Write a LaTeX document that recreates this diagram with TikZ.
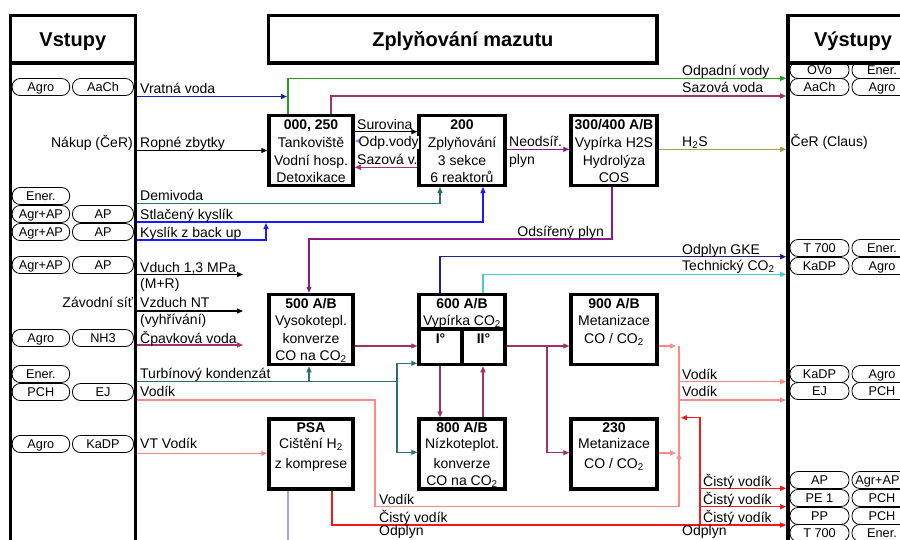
\documentclass[tikz,border=0pt]{standalone}
\usepackage{fontspec}
\setmainfont{Liberation Sans}
\usetikzlibrary{arrows.meta}
\definecolor{cBlueD}{HTML}{1C1CA8}
\definecolor{cBlue}{HTML}{1A1AFF}
\definecolor{cGreen}{HTML}{22A022}
\definecolor{cMag}{HTML}{A8306E}
\definecolor{cOlive}{HTML}{A8A040}
\definecolor{cPurp}{HTML}{8A1A8A}
\definecolor{cTeal}{HTML}{2E7070}
\definecolor{cCyan}{HTML}{48CCCC}
\definecolor{cPink}{HTML}{FF8A8A}
\definecolor{cRed}{HTML}{F01818}
\definecolor{cLav}{HTML}{A8A8CC}
\definecolor{cLBlue}{HTML}{8888FF}
\definecolor{cNavy}{HTML}{202090}
\definecolor{cRose}{HTML}{A03068}
\begin{document}
\begin{tikzpicture}[x=1pt,y=-1pt,
  every node/.style={inner sep=0pt, font=\fontsize{14}{17}\selectfont},
  hdr/.style={draw, line width=3.5pt, outer sep=0pt, minimum height=47.7pt, font=\fontsize{20}{24}\selectfont\bfseries, text height=14.5pt, text depth=0.8pt},
  col/.style={line width=3.5pt},
  pbox/.style={draw, line width=3.5pt, minimum height=70pt},
  btx/.style={anchor=base},
  lbl/.style={anchor=base west},
  rlbl/.style={anchor=base east},
  pill/.style={draw, line width=0.8pt, rounded corners=8pt, minimum height=17pt, font=\fontsize{12.7}{14}\selectfont, text height=9pt, text depth=0pt},
  pl/.style={pill, minimum width=57.5pt},
  pr/.style={pill, minimum width=61pt},
  ql/.style={pill, minimum width=59pt},
  qr/.style={pill, minimum width=60pt},
  conn/.style={line width=1.2pt},
  arr/.style={conn, -{Triangle[length=6pt,width=5pt]}},
]
\useasboundingbox (0,0) rectangle (900,539);
\clip (0,0) rectangle (900,539);

% headers and columns
\node[hdr, minimum width=125pt] (vst) at (72.8,39.15) {Vstupy};
\draw[col] (vst.south west) -- ++(0,490);
\draw[col] (vst.south east) -- ++(0,490);
\node[hdr, minimum width=388.3pt] (tit) at (462.85,39.15) {Zplyňování mazutu};
\node[hdr, minimum width=130pt] (vys) at (853,39.15) {Výstupy};
\draw[col] (vys.south west) -- ++(0,490);
\coordinate (LE) at (137,0);
\coordinate (RE) at (786.2,0);

% process boxes
\node[pbox, minimum width=84pt] (b000) at (311,150.25) {};
\node[pbox, minimum width=86pt] (b200) at (462,150.25) {};
\node[pbox, minimum width=86pt] (b300) at (614,150.25) {};
\node[pbox, minimum width=84pt] (b500) at (311,329.5) {};
\node[pbox, minimum width=86pt] (b600) at (462,329.5) {};
\node[pbox, minimum width=86pt] (b900) at (614,329.5) {};
\node[pbox, minimum width=84pt] (bPSA) at (311,454) {};
\node[pbox, minimum width=86pt] (b800) at (462,454) {};
\node[pbox, minimum width=86pt] (b230) at (614,454) {};
\draw[line width=3.5pt] (b600.west |- 0,329) -- (b600.east |- 0,329);
\draw[line width=3.5pt] (462,329) -- (b600.south);

% connectors
\draw[arr,cBlueD] (LE |- 0,96.5) -- (287,96.5);
\draw[arr,cGreen] (288,0 |- b000.north) -- (288,78.3) -- (RE |- 0,78.3);
\draw[arr,cMag] (331,0 |- b000.north) -- (331,96) -- (RE |- 0,96);
\draw[arr] (LE |- 0,150.5) -- (b000.west |- 0,150.5);
\draw[arr] (b000.east |- 0,131.7) -- (b200.west |- 0,131.7);
\draw[arr,cLBlue] (b200.west |- 0,141) -- (b000.east |- 0,141);
\draw[arr,cMag] (b200.west |- 0,167.3) -- (b000.east |- 0,167.3);
\draw[arr,cPurp] (b200.east |- 0,149.3) -- (b300.west |- 0,149.3);
\draw[arr,cOlive] (b300.east |- 0,149.3) -- (RE |- 0,149.3);
\draw[arr,cTeal] (LE |- 0,203.5) -- (440,203.5) -- (440,0 |- b200.south);
\draw[arr,cBlue] (LE |- 0,222) -- (483,222) -- (483,0 |- b200.south);
\draw[arr,cBlue] (LE |- 0,240) -- (266,240) -- (266,223);
\draw[arr,cPurp] (612,0 |- b300.south) -- (612,239) -- (309,239) -- (309,0 |- b500.north);
\draw[arr] (LE |- 0,274.5) -- (243,274.5);
\draw[arr] (LE |- 0,311) -- (243,311);
\draw[arr,cMag] (LE |- 0,345) -- (243,345);
\draw[conn,cTeal] (LE |- 0,381.7) -- (397,381.7);
\draw[arr,cTeal] (309,381.7) -- (309,0 |- b500.south);
\draw[arr,cTeal] (397,381.7) -- (397,363.3) -- (b600.west |- 0,363.3);
\draw[arr,cTeal] (397,381.7) -- (397,452.3) -- (b800.west |- 0,452.3);
\draw[conn,cPink] (679,455) -- (679,346);
\draw[arr,cPink] (LE |- 0,400) -- (375,400) -- (375,506.7) -- (679,506.7) -- (679,453);
\draw[arr,cPink] (679,381.7) -- (RE |- 0,381.7);
\draw[arr,cPink] (679,400) -- (RE |- 0,400);
\draw[arr,cPink] (LE |- 0,453.3) -- (bPSA.west |- 0,453.3);
\draw[arr,cPink] (b900.east |- 0,346) -- (676,346);
\draw[arr,cPink] (b230.east |- 0,453) -- (676,453);
\draw[arr,cRose] (b500.east |- 0,346) -- (b600.west |- 0,346);
\draw[arr,cRose] (b600.east |- 0,346) -- (b900.west |- 0,346);
\draw[arr,cRose] (547,346) -- (547,452.7) -- (b230.west |- 0,452.7);
\draw[arr,cRose] (440,0 |- b600.south) -- (440,0 |- b800.north);
\draw[arr,cRose] (483,0 |- b800.north) -- (483,0 |- b600.south);
\draw[arr,cNavy] (440,0 |- b600.north) -- (440,256.7) -- (RE |- 0,256.7);
\draw[arr,cCyan] (483,0 |- b600.north) -- (483,274.3) -- (RE |- 0,274.3);
\draw[arr,cRed] (332,0 |- bPSA.south) -- (332,525) -- (RE |- 0,525);
\draw[arr,cRed] (700,525) -- (700,417.7) -- (681,417.7);
\draw[arr,cRed] (700,488.3) -- (RE |- 0,488.3);
\draw[arr,cRed] (700,506.7) -- (RE |- 0,506.7);
\draw[conn,cLav] (288,0 |- bPSA.south) -- (288,545);

% box texts
\node[btx] (t000a) at (311,129) {\textbf{000, 250}};
\node[btx] (t000b) at (311,147) {Tankoviště};
\node[btx] (t000c) at (311,165) {Vodní hosp.};
\node[btx] (t000d) at (311,182) {Detoxikace};
\node[btx] (t200a) at (462,129) {\textbf{200}};
\node[btx] (t200b) at (462,147) {Zplyňování};
\node[btx] (t200c) at (462,165) {3 sekce};
\node[btx] (t200d) at (462,182) {6 reaktorů};
\node[btx] (t300a) at (614,129) {\textbf{300/400 A/B}};
\node[btx] (t300b) at (614,147) {Vypírka H2S};
\node[btx] (t300c) at (614,165) {Hydrolýza};
\node[btx] (t300d) at (614,182) {COS};
\node[btx] (t500a) at (311,308) {\textbf{500 A/B}};
\node[btx] (t500b) at (311,325.7) {Vysokotepl.};
\node[btx] (t500c) at (311,343) {konverze};
\node[btx] (t500d) at (311,360.5) {CO na CO\textsubscript{2}};
\node[btx] (t600a) at (462,308) {\textbf{600 A/B}};
\node[btx] (t600b) at (462,325.7) {Vypírka CO\textsubscript{2}};
\node[btx] (t600c) at (440.5,343) {\textbf{I°}};
\node[btx] (t600d) at (483.5,343) {\textbf{II°}};
\node[btx] (t900a) at (614,308) {\textbf{900 A/B}};
\node[btx] (t900b) at (614,325.7) {Metanizace};
\node[btx] (t900c) at (614,343) {CO / CO\textsubscript{2}};
\node[btx] (tPSAa) at (311,432) {\textbf{PSA}};
\node[btx] (tPSAb) at (311,448) {Cištění H\textsubscript{2}};
\node[btx] (tPSAc) at (311,468) {z komprese};
\node[btx] (t800a) at (462,432) {\textbf{800 A/B}};
\node[btx] (t800b) at (462,448) {Nízkoteplot.};
\node[btx] (t800c) at (462,468) {konverze};
\node[btx] (t800d) at (462,485.5) {CO na CO\textsubscript{2}};
\node[btx] (t230a) at (614,432) {\textbf{230}};
\node[btx] (t230b) at (614,448) {Metanizace};
\node[btx] (t230c) at (614,468) {CO / CO\textsubscript{2}};

% left labels
\node[lbl] (lVr) at (140,93.5) {Vratná voda};
\node[rlbl] (lNa) at (133,147.5) {Nákup (ČeR)};
\node[lbl] (lRo) at (140,147.5) {Ropné zbytky};
\node[lbl] (lDe) at (140,200.7) {Demivoda};
\node[lbl] (lSt) at (140,219.3) {Stlačený kyslík};
\node[lbl] (lKy) at (140,237.3) {Kyslík z back up};
\node[lbl] (lVd) at (140,272) {Vduch 1,3 MPa};
\node[lbl] (lMR) at (140,288.3) {(M+R)};
\node[rlbl] (lZa) at (133.3,307.5) {Závodní síť};
\node[lbl] (lVz) at (140,307.5) {Vzduch NT};
\node[lbl] (lVy) at (140,324.3) {(vyhřívání)};
\node[lbl] (lCp) at (140,343) {Čpavková voda};
\node[lbl] (lTu) at (140,378.3) {Turbínový kondenzát};
\node[lbl] (lVo) at (140,396.7) {Vodík};
\node[lbl] (lVT) at (140,448) {VT Vodík};

% middle labels
\node[lbl] (mSu) at (357,129) {Surovina};
\node[lbl,fill=white] (mOd) at (358.5,146) {Odp.vody};
\node[lbl] (mSa) at (357,164) {Sazová v.};
\node[lbl] (mNe) at (509,146.7) {Neodsíř.};
\node[lbl] (mPl) at (509,164) {plyn};
\node[rlbl] (mOs) at (604,236.7) {Odsířený plyn};
\node[lbl] (cVo) at (379,504.3) {Vodík};
\node[lbl] (cCi) at (379,522) {Čistý vodík};
\node[lbl] (cOp) at (379,535.5) {Odplyn};

% right labels
\node[lbl] (rOd) at (682,75) {Odpadní vody};
\node[lbl] (rSa) at (682,92.7) {Sazová voda};
\node[lbl] (rH) at (682,146.7) {H\textsubscript{2}S};
\node[lbl] (rCe) at (790.5,146.7) {ČeR (Claus)};
\node[lbl] (rOG) at (682,254) {Odplyn GKE};
\node[lbl] (rTe) at (682,270.7) {Technický CO\textsubscript{2}};
\node[lbl] (rV1) at (682,379) {Vodík};
\node[lbl] (rV2) at (682,396.7) {Vodík};
\node[lbl] (rC1) at (703,486) {Čistý vodík};
\node[lbl] (rC2) at (703,504.3) {Čistý vodík};
\node[lbl] (rC3) at (703,522) {Čistý vodík};
\node[lbl] (rOp) at (682,535.5) {Odplyn};

% left pills
\node[pl] (pa1) at (40.9,87) {Agro};   \node[pr] (pa2) at (103,87) {AaCh};
\node[pl] (pb1) at (40.9,196) {Ener.};
\node[pl] (pc1) at (40.9,214) {Agr+AP}; \node[pr] (pc2) at (103,214) {AP};
\node[pl] (pd1) at (40.9,232) {Agr+AP}; \node[pr] (pd2) at (103,232) {AP};
\node[pl] (pe1) at (40.9,265) {Agr+AP}; \node[pr] (pe2) at (103,265) {AP};
\node[pl] (pf1) at (40.9,338) {Agro};   \node[pr] (pf2) at (103,338) {NH3};
\node[pl] (pg1) at (40.9,374) {Ener.};
\node[pl] (ph1) at (40.9,392) {PCH};    \node[pr] (ph2) at (103,392) {EJ};
\node[pl] (pi1) at (40.9,444) {Agro};   \node[pr] (pi2) at (103,444) {KaDP};

% right pills
\node[ql] (qa1) at (819.5,70) {OVo};   \node[qr] (qa2) at (882,70) {Ener.};
\node[ql] (qb1) at (819.5,87) {AaCh};  \node[qr] (qb2) at (882,87) {Agro};
\node[ql] (qc1) at (819.5,248) {T 700}; \node[qr] (qc2) at (882,248) {Ener.};
\node[ql] (qd1) at (819.5,266) {KaDP};  \node[qr] (qd2) at (882,266) {Agro};
\node[ql] (qe1) at (819.5,374) {KaDP};  \node[qr] (qe2) at (882,374) {Agro};
\node[ql] (qf1) at (819.5,391) {EJ};    \node[qr] (qf2) at (882,391) {PCH};
\node[ql] (qg1) at (819.5,480) {AP};    \node[qr] (qg2) at (882,480) {\hspace*{-9pt}Agr+AP};
\node[ql] (qh1) at (819.5,498) {PE 1};  \node[qr] (qh2) at (882,498) {PCH};
\node[ql] (qi1) at (819.5,516) {PP};    \node[qr] (qi2) at (882,516) {PCH};
\node[ql] (qj1) at (819.5,533) {T 700}; \node[qr] (qj2) at (882,533) {Ener.};
\end{tikzpicture}
\end{document}
